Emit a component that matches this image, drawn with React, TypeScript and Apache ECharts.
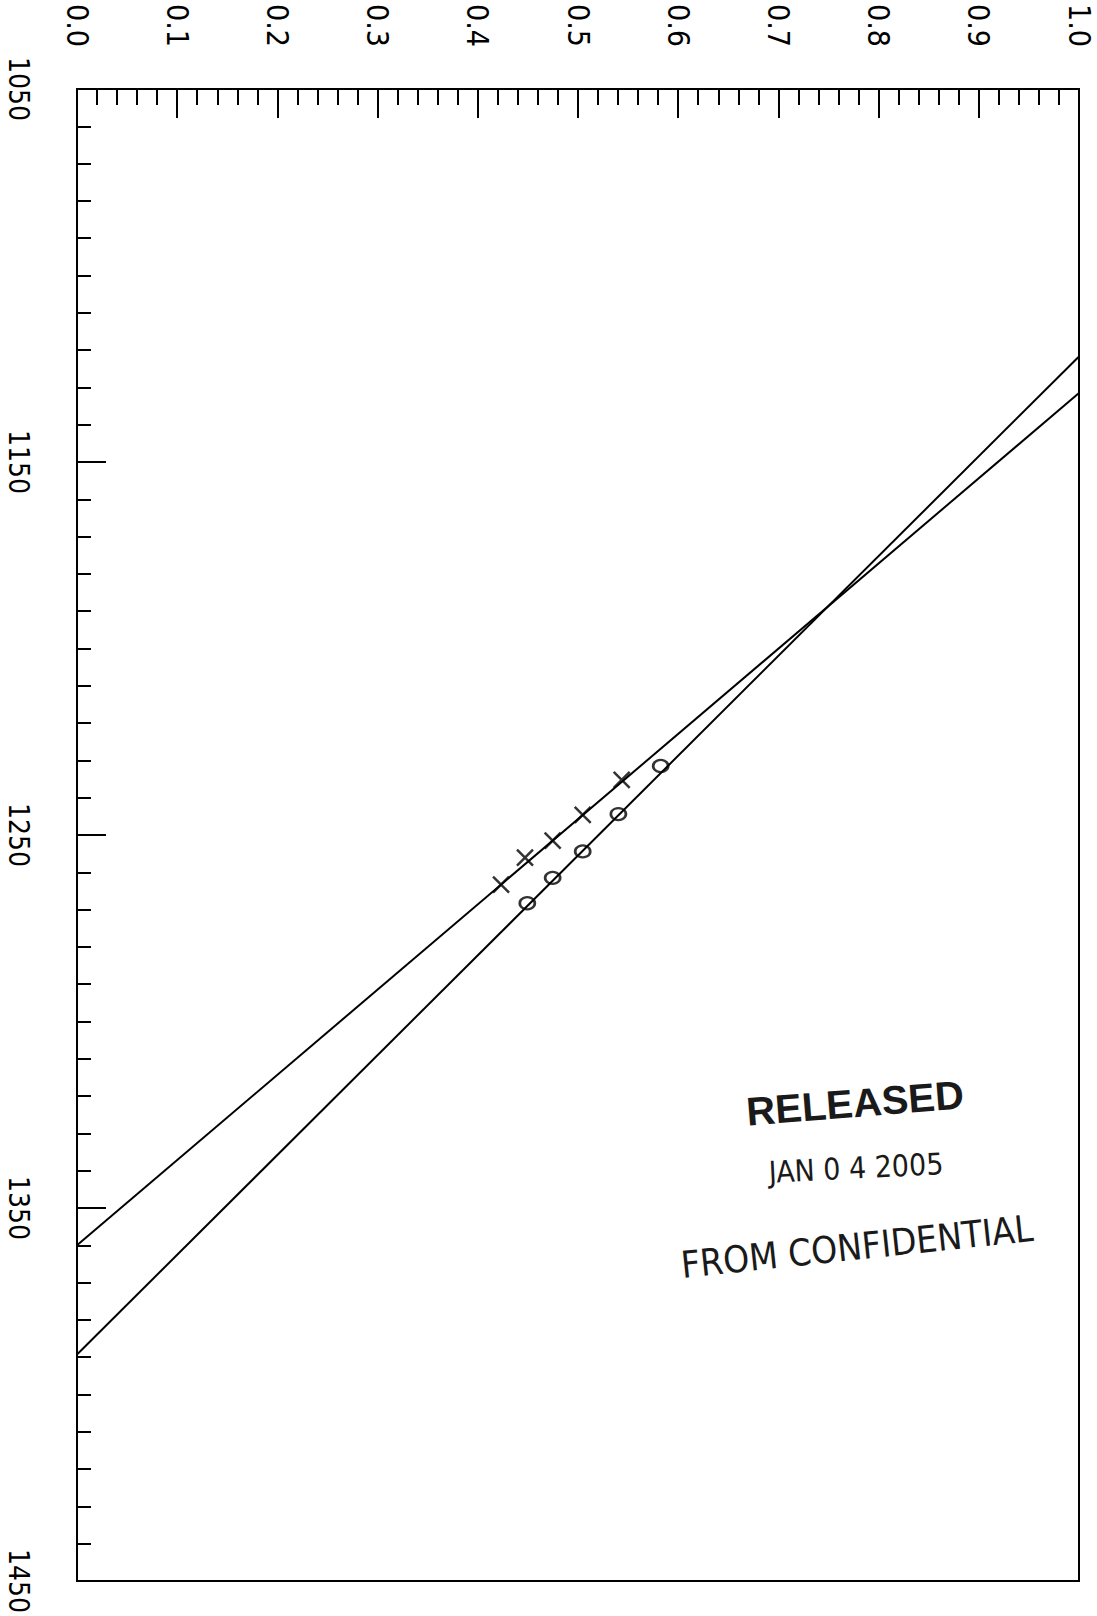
import React, { useEffect, useRef } from "react";
import * as echarts from "echarts";

// Horizontal axis (top): 0.0 .. 1.0
const X_TICK_LABELS = ["0.0", "0.1", "0.2", "0.3", "0.4", "0.5", "0.6", "0.7", "0.8", "0.9", "1.0"];
// Vertical axis (left, downward): 1050 .. 1450
const Y_TICK_LABELS = ["1050", "1150", "1250", "1350", "1450"];

// Fitted straight lines, value at x = 0 and x = 1
const LINE_X = [0, 1];
const CROSS_LINE_Y = [1360.0, 1131.5];
const CIRCLE_LINE_Y = [1389.3, 1121.7];

// Measured points
const CROSS_X = [0.5436, 0.5047, 0.4747, 0.4471, 0.4232];
const CROSS_Y = [1235.2, 1244.6, 1251.5, 1256.1, 1263.3];
const CIRCLE_X = [0.5825, 0.5403, 0.5047, 0.4747, 0.4494];
const CIRCLE_Y = [1231.5, 1244.4, 1254.4, 1261.5, 1268.3];

const STAMP_LINES = ["RELEASED", "JAN 0 4 2005", "FROM CONFIDENTIAL"];

const LABEL_FONT = "'Liberation Sans Narrow', 'DejaVu Sans Condensed', 'Liberation Sans', sans-serif";

export default function App() {
  const ref = useRef<HTMLDivElement>(null);

  useEffect(() => {
    if (!ref.current) return;
    const chart = echarts.init(ref.current, null, { renderer: "svg" });

    const xMin = Number(X_TICK_LABELS[0]);
    const xMax = Number(X_TICK_LABELS[X_TICK_LABELS.length - 1]);
    const yMin = Number(Y_TICK_LABELS[0]);
    const yMax = Number(Y_TICK_LABELS[Y_TICK_LABELS.length - 1]);

    const black = "#000";
    const zip = (a: number[], b: number[]) => a.map((v, i) => [v, b[i]]);

    const option: any = {
      animation: false,
      backgroundColor: "#fff",
      grid: {
        left: 77,
        top: 89,
        width: 1002,
        height: 1496,
        show: true,
        borderColor: black,
        borderWidth: 2,
        backgroundColor: "transparent",
      },
      xAxis: {
        type: "value",
        position: "top",
        min: xMin,
        max: xMax,
        interval: 0.1,
        axisLine: { show: true, lineStyle: { color: black, width: 2 } },
        axisTick: { show: true, inside: true, length: 29, lineStyle: { color: black, width: 2 } },
        minorTick: { show: true, splitNumber: 5, length: 16, lineStyle: { color: black, width: 2 } },
        splitLine: { show: false },
        axisLabel: {
          show: true,
          rotate: -90,
          margin: 42,
          color: black,
          fontSize: 30,
          fontFamily: LABEL_FONT,
          formatter: (v: number) => {
            const s = v.toFixed(1);
            return X_TICK_LABELS.includes(s) ? s : "";
          },
        },
      },
      yAxis: [
        {
          type: "value",
          position: "left",
          inverse: true,
          min: yMin,
          max: yMax,
          interval: 10,
          axisLine: { show: true, lineStyle: { color: black, width: 2 } },
          axisTick: { show: true, inside: true, length: 14, lineStyle: { color: black, width: 2 } },
          splitLine: { show: false },
          axisLabel: {
            show: true,
            rotate: -90,
            margin: 45,
            color: black,
            fontSize: 28,
            fontFamily: LABEL_FONT,
            formatter: (v: number) => {
              const s = String(Math.round(v));
              return Y_TICK_LABELS.includes(s) ? s : "";
            },
          },
        },
        {
          // long ticks every 100 units, counted from the top of the axis
          type: "value",
          position: "left",
          inverse: true,
          min: 0,
          max: yMax - yMin,
          interval: 100,
          axisLine: { show: false },
          axisTick: { show: true, inside: true, length: 29, lineStyle: { color: black, width: 2 } },
          splitLine: { show: false },
          axisLabel: { show: false },
        },
      ],
      series: [
        {
          type: "line",
          data: zip(LINE_X, CROSS_LINE_Y),
          symbol: "none",
          lineStyle: { color: black, width: 2 },
          xAxisIndex: 0,
          yAxisIndex: 0,
          z: 2,
        },
        {
          type: "line",
          data: zip(LINE_X, CIRCLE_LINE_Y),
          symbol: "none",
          lineStyle: { color: black, width: 2 },
          xAxisIndex: 0,
          yAxisIndex: 0,
          z: 2,
        },
        {
          type: "scatter",
          data: zip(CROSS_X, CROSS_Y),
          symbol: "path://M0 0L10 10M10 0L0 10",
          symbolSize: 16,
          itemStyle: { color: "none", borderColor: black, borderWidth: 2.5 },
          xAxisIndex: 0,
          yAxisIndex: 0,
          z: 3,
        },
        {
          type: "scatter",
          data: zip(CIRCLE_X, CIRCLE_Y),
          symbol: "circle",
          symbolSize: [15, 12],
          itemStyle: { color: "none", borderColor: black, borderWidth: 2.5 },
          xAxisIndex: 0,
          yAxisIndex: 0,
          z: 3,
        },
      ],
      graphic: [
        {
          type: "text",
          x: 855,
          y: 1103,
          rotation: 0.08,
          style: {
            text: STAMP_LINES[0],
            fontSize: 40,
            fontWeight: "bold",
            fontFamily: "'Liberation Sans', sans-serif",
            fill: "#1a1a1a",
            align: "center",
            verticalAlign: "middle",
          },
        },
        {
          type: "text",
          x: 856,
          y: 1168,
          rotation: 0.05,
          style: {
            text: STAMP_LINES[1],
            fontSize: 30,
            fontFamily: LABEL_FONT,
            fill: "#1a1a1a",
            align: "center",
            verticalAlign: "middle",
          },
        },
        {
          type: "text",
          x: 857,
          y: 1247,
          rotation: 0.105,
          style: {
            text: STAMP_LINES[2],
            fontSize: 37,
            fontFamily: LABEL_FONT,
            fill: "#1a1a1a",
            align: "center",
            verticalAlign: "middle",
          },
        },
      ],
    };

    chart.setOption(option);
    return () => chart.dispose();
  }, []);

  return (
    <div
      ref={ref}
      style={{ position: "absolute", left: 0, top: 0, width: 1097, height: 1616, background: "#fff" }}
    />
  );
}
